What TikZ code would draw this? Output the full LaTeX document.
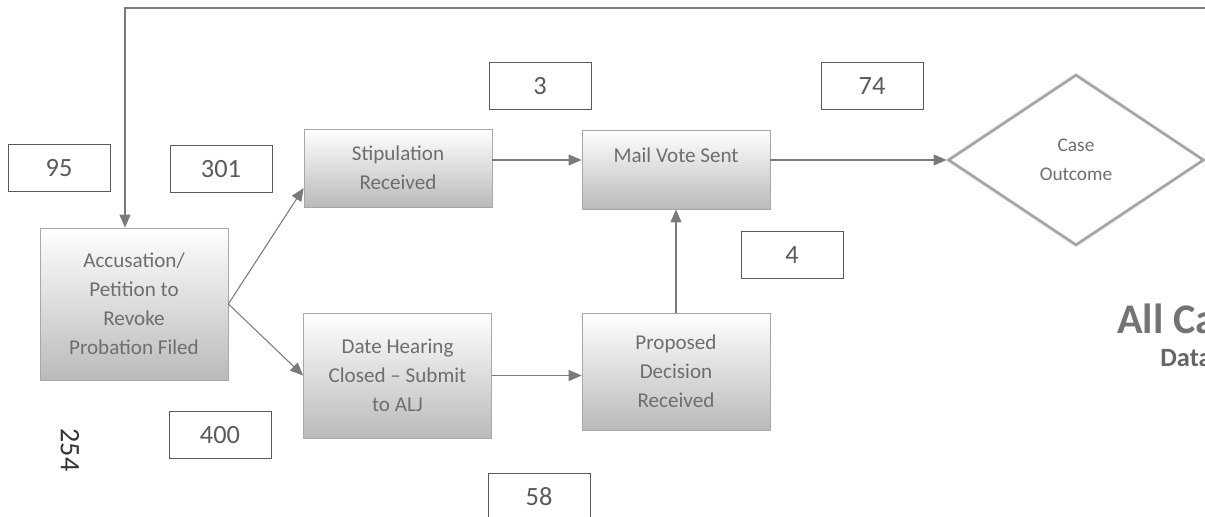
\documentclass[tikz,border=0pt]{standalone}
\usepackage{fontspec}
\setmainfont{Carlito}
\usepackage{tikz}
\usetikzlibrary{arrows.meta,shapes.geometric}
\definecolor{linec}{HTML}{7A7A7A}
\definecolor{txtc}{HTML}{6E6E6E}
\definecolor{numc}{HTML}{5A5A5A}
\definecolor{edgec}{HTML}{A8A8A8}
\tikzset{
  ar/.style={-{Triangle[length=2.6mm,width=2.2mm]},line width=0.6pt,linec},
  stepbox/.style={draw=edgec,top color=white,bottom color=black!27,minimum width=3.76cm,align=center,text=txtc,font=\fontsize{12}{16.5}\selectfont,inner sep=2pt},
  cnt/.style={draw=numc,line width=0.5pt,fill=white,minimum width=2.04cm,minimum height=0.94cm,text=numc,font=\fontsize{15}{18}\selectfont},
  dec/.style={diamond,draw=black!35,line width=1.6pt,fill=white,minimum width=5.12cm,minimum height=3.42cm,inner sep=0pt,align=center,text=txtc,font=\fontsize{11}{16.5}\selectfont}
}

\begin{document}
\begin{tikzpicture}
\useasboundingbox (0,0) rectangle (24.1,-10.34);
% counts
\foreach \n/\x/\y in {95/1.18/-3.36,301/4.42/-3.38,3/10.80/-1.72,74/17.44/-1.72,4/15.84/-5.10,400/4.40/-8.70,58/10.78/-9.93}
  \node[cnt] (c\n) at (\x,\y) {\n};
% steps
\node[stepbox,minimum height=3.04cm] (acc) at (2.68,-6.08) {Accusation/\\Petition to\\Revoke\\Probation Filed};
\node[stepbox,minimum height=1.56cm] (stip) at (7.96,-3.36) {Stipulation\\Received};
\node[stepbox,minimum height=2.50cm] (date) at (7.95,-7.51) {Date Hearing\\Closed -- Submit\\to ALJ};
\node[stepbox,minimum height=1.58cm] (mail) at (13.52,-3.39) {Mail Vote Sent\\\mbox{}};
\node[stepbox,minimum height=2.34cm] (prop) at (13.52,-7.43) {Proposed\\Decision\\Received};
\node[dec] (dia) at (21.52,-3.20) {Case\\Outcome};
\node[font=\fontsize{24}{28}\selectfont\bfseries,text=black!55,anchor=west,inner sep=0pt] (allc) at (22.34,-6.37) {All Ca};
\node[font=\fontsize{15}{18}\selectfont\bfseries,text=black!60,anchor=west,inner sep=0pt] (data) at (23.20,-7.17) {Data};
\node[rotate=-90,font=\fontsize{16}{18}\selectfont,text=black!80] (pg) at (1.40,-9.00) {254};
\coordinate (fb) at (24.1,-0.16);
% flow
\draw[ar] (fb) -| ([xshift=-1.8mm]acc.north);
\draw[ar] (acc.east) -- ([yshift=-4mm]stip.west);
\draw[ar] (acc.east) -- (date.west);
\draw[ar] (dia.west -| stip.east) -- (dia.west -| mail.west);
\draw[ar] (dia.west -| mail.east) -- (dia.west);
\draw[ar] (date.east) -- (date.east -| prop.west);
\draw[ar] (prop.north) -- (mail.south);
\end{tikzpicture}
\end{document}
